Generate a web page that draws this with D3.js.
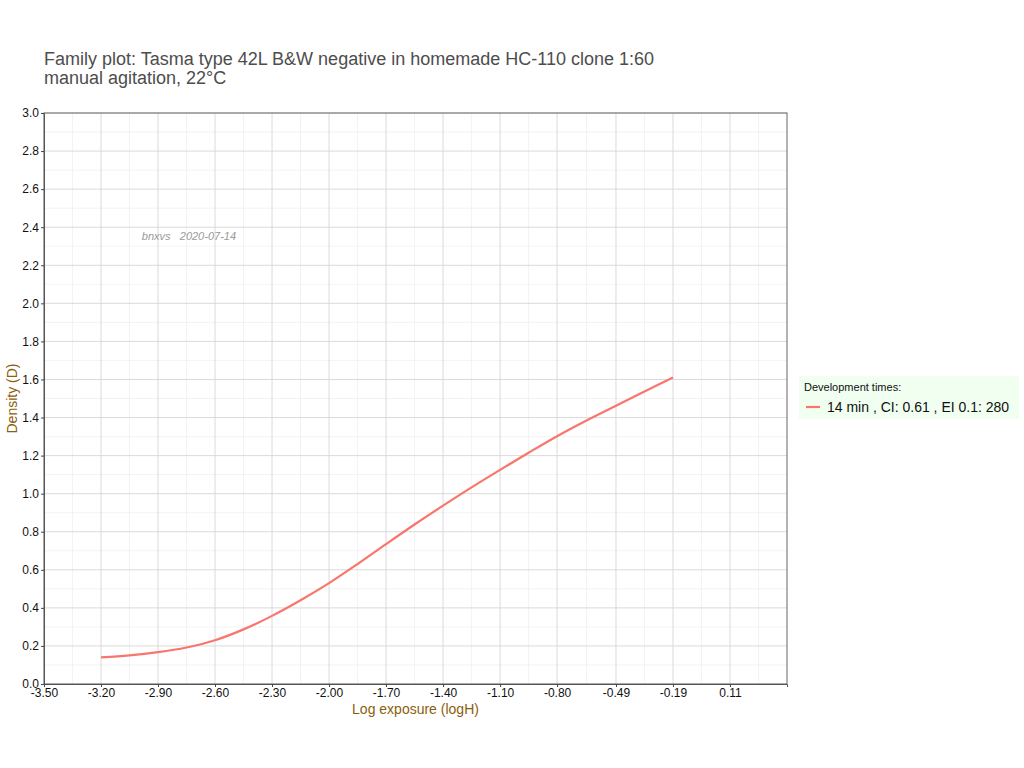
<!DOCTYPE html>
<html><head><meta charset="utf-8">
<script src="https://cdn.jsdelivr.net/npm/d3@7"></script>
<style>body{margin:0;background:#fff;font-family:"Liberation Sans",Arial,sans-serif}</style>
</head><body><svg id="c" width="1024" height="768"></svg>
<script>
const titleLines = ["Family plot: Tasma type 42L B&W negative in homemade HC-110 clone 1:60", "manual agitation, 22°C"];
const xTicks = [-3.50, -3.20, -2.90, -2.60, -2.30, -2.00, -1.70, -1.40, -1.10, -0.80, -0.49, -0.19, 0.11];
const yTicks = [0.0,0.2,0.4,0.6,0.8,1.0,1.2,1.4,1.6,1.8,2.0,2.2,2.4,2.6,2.8,3.0];
const logH = [-3.20, -3.05, -2.90, -2.75, -2.60, -2.45, -2.30, -2.15, -2.00, -1.85, -1.70, -1.55, -1.40, -1.25, -1.10, -0.95, -0.80, -0.65, -0.49, -0.34, -0.19];
const density = [0.140, 0.150, 0.167, 0.192, 0.230, 0.287, 0.358, 0.440, 0.530, 0.630, 0.735, 0.838, 0.937, 1.033, 1.125, 1.215, 1.302, 1.382, 1.462, 1.537, 1.610];
const seriesLabel = "14 min , CI: 0.61 , EI 0.1: 280";
const legendTitle = "Development times:";
const watermark = "bnxvs   2020-07-14";

const svg = d3.select("#c");
const L=44, R=787, T=113, B=684;
const x = d3.scaleLinear().domain([-3.5, 0.41]).range([L, R]);
const y = d3.scaleLinear().domain([0, 3]).range([B, T]);

const xMinor = [];
for (let i=0;i<xTicks.length;i++){ const a=xTicks[i], b = i+1<xTicks.length? xTicks[i+1] : a+0.3; const m=(a+b)/2; if (x(m)<R) xMinor.push(m);}
const yMinor = d3.range(0.1, 3.0, 0.2);
const g = svg.append("g");
g.selectAll(".xm").data(xMinor).join("line").attr("x1",d=>x(d)).attr("x2",d=>x(d)).attr("y1",T).attr("y2",B).attr("stroke","#ebebeb").attr("stroke-width",0.6);
g.selectAll(".ym").data(yMinor).join("line").attr("y1",d=>y(d)).attr("y2",d=>y(d)).attr("x1",L).attr("x2",R).attr("stroke","#ebebeb").attr("stroke-width",0.6);
g.selectAll(".xg").data(xTicks).join("line").attr("x1",d=>x(d)).attr("x2",d=>x(d)).attr("y1",T).attr("y2",B).attr("stroke","#d6d6d6").attr("stroke-width",0.9);
g.selectAll(".yg").data(yTicks).join("line").attr("y1",d=>y(d)).attr("y2",d=>y(d)).attr("x1",L).attr("x2",R).attr("stroke","#d6d6d6").attr("stroke-width",0.9);

svg.append("rect").attr("x",L).attr("y",T).attr("width",R-L).attr("height",B-T).attr("fill","none").attr("stroke","#666").attr("stroke-width",1);

const hy = f => d => f(d).replace("\u2212","-");
const xa = svg.append("g").attr("transform",`translate(0,${B})`).call(d3.axisBottom(x).tickValues(xTicks).tickFormat(hy(d3.format(".2f"))).tickSize(3).tickPadding(1));
const ya = svg.append("g").attr("transform",`translate(${L},0)`).call(d3.axisLeft(y).tickValues(yTicks).tickFormat(hy(d3.format(".1f"))).tickSize(3).tickPadding(2));
[xa,ya].forEach(a=>{a.select(".domain").attr("stroke","#555");a.selectAll(".tick line").attr("stroke","#444");a.selectAll("text").attr("fill","#111").style("font-family","Liberation Sans, Arial, sans-serif").style("font-size","12px");});

const line = d3.line().x((d,i)=>x(logH[i])).y(d=>y(d)).curve(d3.curveCatmullRom);
svg.append("path").datum(density).attr("d",line).attr("fill","none").attr("stroke","#F8766D").attr("stroke-width",2.2);

svg.append("text").attr("x",x(-2.985)).attr("y",y(2.335)).text(watermark).attr("fill","#9a9a9a").style("font-style","italic").style("font-size","11px").style("white-space","pre").attr("xml:space","preserve");

svg.selectAll(".tt").data(titleLines).join("text").attr("x",44).attr("y",(d,i)=>65+i*19).text(d=>d).attr("fill","#4d4d4d").style("font-size","18px");

svg.append("text").attr("x",(L+R)/2).attr("y",714).attr("text-anchor","middle").text("Log exposure (logH)").attr("fill","#8B5E0B").style("font-size","14px");
svg.append("text").attr("transform",`translate(17,${(T+B)/2}) rotate(-90)`).attr("text-anchor","middle").text("Density (D)").attr("fill","#8B5E0B").style("font-size","14px");

const lg = svg.append("g").attr("transform","translate(799,376)");
lg.append("rect").attr("width",220).attr("height",43).attr("fill","#F0FFF0");
lg.append("text").attr("x",5).attr("y",15).text(legendTitle).attr("fill","#111").style("font-size","11px");
lg.append("line").attr("x1",7).attr("x2",21).attr("y1",31).attr("y2",31).attr("stroke","#F8766D").attr("stroke-width",2.2);
lg.append("text").attr("x",28).attr("y",36).text(seriesLabel).attr("fill","#111").style("font-size","14px");
</script></body></html>
